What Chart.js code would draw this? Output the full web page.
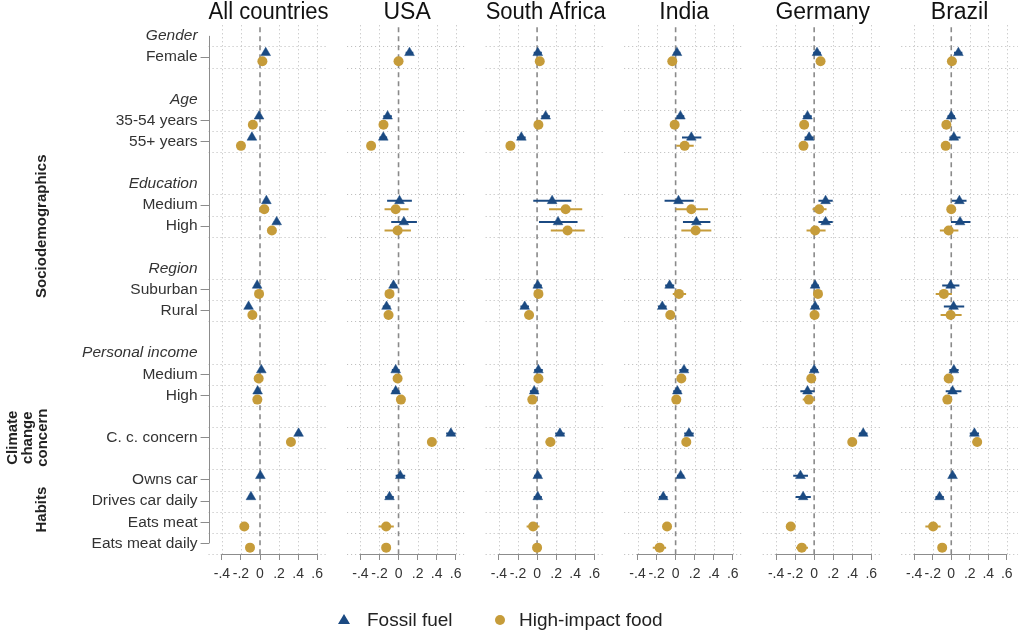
<!DOCTYPE html>
<html>
<head>
<meta charset="utf-8">
<script src="https://cdn.jsdelivr.net/npm/chart.js@4/dist/chart.umd.min.js"></script>
<style>
  html, body { margin: 0; padding: 0; background: #fff; }
  #wrap { position: relative; width: 1024px; height: 637px; overflow: hidden;
          font-family: "Liberation Sans", Arial, sans-serif; }
  #wrap canvas { position: absolute; left: 0; top: 0; }
  .lg-text { position: absolute; top: 608px; font-size: 19px; line-height: 24px; color: #222; white-space: nowrap; }
  .lg-tri { position: absolute; left: 338px; top: 614px; width: 12px; height: 10px;
            background: #1b4a82; clip-path: polygon(50% 0, 100% 100%, 0 100%); }
  .lg-dot { position: absolute; left: 495px; top: 615px; width: 10px; height: 10px;
            border-radius: 50%; background: #c69c3a; }
</style>
</head>
<body>
<div id="wrap">
  <div class="lg-tri"></div><div class="lg-text" style="left:367px">Fossil fuel</div>
  <div class="lg-dot"></div><div class="lg-text" style="left:519px">High-impact food</div>
</div>
<script>
// Coefficient plot, six panels side by side (one Chart.js scatter per panel).
// Rows are placed on a linear y scale by index; headers are italic tick labels.

const FONT = '"Liberation Sans", Arial, sans-serif';
const NAVY = "#1b4a82";
const GOLD = "#c69c3a";
const GRID = "#b9b9b9";
const AXIS = "#8c8c8c";

const countries = ["All countries", "USA", "South Africa", "India", "Germany", "Brazil"];

const rowLabels = [
  "Gender", "Female", "",
  "Age", "35-54 years", "55+ years", "",
  "Education", "Medium", "High", "",
  "Region", "Suburban", "Rural", "",
  "Personal income", "Medium", "High", "",
  "C. c. concern", "",
  "Owns car", "Drives car daily", "Eats meat", "Eats meat daily",
];
const headerRows = [0, 3, 7, 11, 15];
const dataRows = [1, 4, 5, 8, 9, 12, 13, 16, 17, 19, 21, 22, 23, 24];
const xTicks = [-0.4, -0.2, 0, 0.2, 0.4, 0.6];

// order of values: Female, 35-54, 55+, Edu medium, Edu high, Suburban, Rural,
// Income medium, Income high, C.c. concern, Owns car, Drives car daily, Eats meat, Eats meat daily
const allFossil = [0.06, -0.01, -0.085, 0.067, 0.175, -0.03, -0.12, 0.014, -0.025, 0.405, 0.004, -0.095, null, null];
const allFossilCI = [[0.035, 0.085], [-0.035, 0.015], [-0.11, -0.06], [0.04, 0.095], [0.145, 0.205], [-0.055, -0.005], [-0.145, -0.095], [-0.01, 0.04], [-0.05, 0.0], [0.375, 0.435], [-0.02, 0.03], [-0.12, -0.07], null, null];
const allFood = [0.025, -0.075, -0.2, 0.045, 0.125, -0.01, -0.08, -0.014, -0.028, 0.325, null, null, -0.165, -0.105];
const allFoodCI = [[0.0, 0.05], [-0.1, -0.05], [-0.225, -0.175], [0.015, 0.075], [0.095, 0.155], [-0.035, 0.015], [-0.105, -0.055], [-0.04, 0.012], [-0.053, -0.003], [0.295, 0.355], null, null, [-0.19, -0.14], [-0.13, -0.08]];

const usaFossil = [0.115, -0.115, -0.16, 0.01, 0.056, -0.053, -0.126, -0.03, -0.03, 0.55, 0.018, -0.095, null, null];
const usaFossilCI = [[0.075, 0.155], [-0.16, -0.07], [-0.2, -0.12], [-0.12, 0.14], [-0.077, 0.193], [-0.09, -0.015], [-0.165, -0.085], [-0.07, 0.01], [-0.07, 0.01], [0.5, 0.6], [-0.03, 0.07], [-0.14, -0.05], null, null];
const usaFood = [0.0, -0.158, -0.288, -0.03, -0.01, -0.095, -0.105, -0.01, 0.025, 0.35, null, null, -0.13, -0.13];
const usaFoodCI = [[-0.04, 0.04], [-0.2, -0.115], [-0.33, -0.245], [-0.147, 0.105], [-0.147, 0.13], [-0.135, -0.055], [-0.145, -0.065], [-0.05, 0.03], [-0.015, 0.065], [0.31, 0.39], null, null, [-0.21, -0.05], [-0.17, -0.09]];

const zafFossil = [0.007, 0.09, -0.165, 0.158, 0.22, 0.007, -0.13, 0.014, -0.03, 0.24, 0.007, 0.007, null, null];
const zafFossilCI = [[-0.035, 0.05], [0.045, 0.135], [-0.21, -0.12], [-0.04, 0.36], [0.02, 0.425], [-0.035, 0.05], [-0.175, -0.085], [-0.03, 0.06], [-0.075, 0.015], [0.19, 0.29], [-0.03, 0.045], [-0.035, 0.05], null, null];
const zafFood = [0.028, 0.014, -0.28, 0.3, 0.32, 0.014, -0.084, 0.014, -0.05, 0.14, null, null, -0.042, 0.0];
const zafFoodCI = [[-0.01, 0.065], [-0.025, 0.055], [-0.32, -0.24], [0.126, 0.474], [0.144, 0.5], [-0.025, 0.055], [-0.13, -0.04], [-0.025, 0.055], [-0.09, -0.01], [0.09, 0.19], null, null, [-0.11, 0.025], [-0.04, 0.04]];

const indFossil = [0.014, 0.05, 0.165, 0.03, 0.218, -0.063, -0.14, 0.088, 0.018, 0.14, 0.053, -0.13, null, null];
const indFossilCI = [[-0.02, 0.05], [0.01, 0.09], [0.067, 0.27], [-0.116, 0.19], [0.077, 0.365], [-0.11, -0.015], [-0.185, -0.095], [0.04, 0.135], [-0.025, 0.06], [0.09, 0.19], [0.015, 0.09], [-0.175, -0.085], null, null];
const indFood = [-0.035, -0.01, 0.095, 0.165, 0.21, 0.035, -0.056, 0.06, 0.007, 0.112, null, null, -0.09, -0.168];
const indFoodCI = [[-0.07, 0.0], [-0.045, 0.025], [0.007, 0.19], [0.0, 0.34], [0.06, 0.375], [-0.03, 0.11], [-0.095, -0.015], [0.02, 0.1], [-0.03, 0.045], [0.07, 0.155], null, null, [-0.125, -0.055], [-0.24, -0.1]];

const deuFossil = [0.03, -0.07, -0.053, 0.12, 0.12, 0.01, 0.01, 0.0, -0.07, 0.515, -0.144, -0.116, null, null];
const deuFossilCI = [[-0.01, 0.07], [-0.115, -0.025], [-0.1, -0.005], [0.045, 0.195], [0.045, 0.195], [-0.03, 0.05], [-0.03, 0.05], [-0.04, 0.04], [-0.145, 0.005], [0.47, 0.56], [-0.22, -0.065], [-0.195, -0.035], null, null];
const deuFood = [0.067, -0.105, -0.112, 0.053, 0.01, 0.04, 0.004, -0.03, -0.056, 0.4, null, null, -0.246, -0.13];
const deuFoodCI = [[0.02, 0.11], [-0.15, -0.06], [-0.16, -0.065], [-0.017, 0.13], [-0.08, 0.12], [0.0, 0.08], [-0.04, 0.045], [-0.07, 0.01], [-0.12, 0.01], [0.355, 0.445], null, null, [-0.29, -0.2], [-0.19, -0.065]];

const braFossil = [0.077, 0.0, 0.028, 0.088, 0.095, -0.007, 0.025, 0.028, 0.014, 0.25, 0.014, -0.126, null, null];
const braFossilCI = [[0.03, 0.12], [-0.04, 0.04], [-0.02, 0.1], [0.007, 0.165], [-0.003, 0.207], [-0.098, 0.088], [-0.08, 0.14], [-0.02, 0.08], [-0.06, 0.11], [0.2, 0.3], [-0.02, 0.05], [-0.17, -0.08], null, null];
const braFood = [0.007, -0.053, -0.06, 0.0, -0.028, -0.08, -0.007, -0.028, -0.042, 0.28, null, null, -0.196, -0.098];
const braFoodCI = [[-0.03, 0.04], [-0.09, -0.01], [-0.1, -0.02], [-0.04, 0.04], [-0.123, 0.077], [-0.168, 0.007], [-0.115, 0.112], [-0.07, 0.01], [-0.08, 0.0], [0.23, 0.33], null, null, [-0.28, -0.115], [-0.14, -0.055]];

const panels = [
  [allFossil, allFossilCI, allFood, allFoodCI],
  [usaFossil, usaFossilCI, usaFood, usaFoodCI],
  [zafFossil, zafFossilCI, zafFood, zafFoodCI],
  [indFossil, indFossilCI, indFood, indFoodCI],
  [deuFossil, deuFossilCI, deuFood, deuFoodCI],
  [braFossil, braFossilCI, braFood, braFoodCI],
];

// gridlines sit on the edges of every data row
const boundaries = [...new Set(dataRows.flatMap((r) => [r - 0.5, r + 0.5]))];

function fmtTick(v) {
  if (Math.abs(v) < 1e-9) return "0";
  return (v < 0 ? "-" : "") + "." + Math.round(Math.abs(v) * 10);
}

function line(ctx, x1, y1, x2, y2) {
  ctx.beginPath();
  ctx.moveTo(x1, y1);
  ctx.lineTo(x2, y2);
  ctx.stroke();
}

const panelDecor = {
  id: "panelDecor",
  beforeDatasetsDraw(chart, _args, opts) {
    const { ctx, chartArea: a, scales: { x, y } } = chart;
    ctx.save();
    ctx.lineWidth = 1;
    ctx.strokeStyle = GRID;
    ctx.setLineDash([1, 3]);
    boundaries.forEach((b) => {
      const py = Math.round(y.getPixelForValue(b)) + 0.5;
      line(ctx, a.left, py, a.right, py);
    });
    xTicks.filter((v) => v !== 0).forEach((v) => {
      const px = Math.round(x.getPixelForValue(v)) + 0.5;
      line(ctx, px, a.top, px, a.bottom);
    });
    // reference line at 0
    const x0 = x.getPixelForValue(0);
    ctx.strokeStyle = "#8a8a8a";
    ctx.lineWidth = 1.6;
    ctx.setLineDash([5, 4]);
    line(ctx, x0, a.top + 2, x0, a.bottom);
    // x axis only spans the labelled range
    ctx.setLineDash([]);
    ctx.lineWidth = 1;
    ctx.strokeStyle = AXIS;
    line(ctx, x.getPixelForValue(-0.4) - 0.5, a.bottom + 0.5, x.getPixelForValue(0.6) + 0.5, a.bottom + 0.5);
    if (opts.yAxis) {
      const lx = Math.round(a.left) + 0.5;
      line(ctx, lx, y.getPixelForValue(0), lx, y.getPixelForValue(24));
    }
    ctx.restore();
  },
  afterDraw(chart, _args, opts) {
    if (!opts.yAxis) return;
    const { ctx, scales: { y } } = chart;
    const groups = [
      { lines: ["Sociodemographics"], x: [42], rows: [0, 18] },
      { lines: ["Climate", "change", "concern"], x: [13, 28, 43], rows: [19, 19] },
      { lines: ["Habits"], x: [42], rows: [21.3, 23.5] },
    ];
    ctx.save();
    ctx.font = `bold 15px ${FONT}`;
    ctx.fillStyle = "#222";
    ctx.textAlign = "center";
    ctx.textBaseline = "middle";
    groups.forEach((g) => {
      const cy = (y.getPixelForValue(g.rows[0]) + y.getPixelForValue(g.rows[1])) / 2;
      g.lines.forEach((t, k) => {
        ctx.save();
        ctx.translate(g.x[k], cy);
        ctx.rotate(-Math.PI / 2);
        ctx.fillText(t, 0, 0);
        ctx.restore();
      });
    });
    ctx.restore();
  },
};

function ciSets(values, cis, dy, color) {
  const out = [];
  dataRows.forEach((r, k) => {
    if (values[k] == null || !cis[k]) return;
    out.push({
      data: [{ x: cis[k][0], y: r + dy }, { x: cis[k][1], y: r + dy }],
      showLine: true,
      pointRadius: 0,
      borderColor: color,
      borderWidth: 2,
    });
  });
  return out;
}

function points(values, dy) {
  return dataRows
    .map((r, k) => (values[k] == null ? null : { x: values[k], y: r + dy }))
    .filter(Boolean);
}

const wrap = document.getElementById("wrap");
const X_MIN = -0.54, X_MAX = 0.72, AREA_W = 120;

panels.forEach(([fossil, fossilCI, food, foodCI], i) => {
  const canvas = document.createElement("canvas");
  canvas.width = 1024;
  canvas.height = 637;
  wrap.insertBefore(canvas, wrap.firstChild);
  const zero = 260 + 138.54 * i;
  const left = zero + (X_MIN * AREA_W) / (X_MAX - X_MIN);
  const right = left + AREA_W;
  const first = i === 0;

  new Chart(canvas, {
    type: "scatter",
    data: {
      datasets: [
        { label: "Fossil fuel", data: points(fossil, -0.2), pointStyle: "triangle", pointRadius: 5.6,
          backgroundColor: NAVY, borderColor: NAVY, borderWidth: 0.5 },
        { label: "High-impact food", data: points(food, 0.2), pointStyle: "circle", pointRadius: 5,
          backgroundColor: GOLD, borderColor: GOLD, borderWidth: 0 },
        ...ciSets(fossil, fossilCI, -0.2, NAVY),
        ...ciSets(food, foodCI, 0.2, GOLD),
      ],
    },
    options: {
      responsive: false,
      animation: false,
      events: [],
      layout: { padding: { left: 0, right: 1024 - right, top: 0, bottom: 0 } },
      plugins: {
        legend: { display: false },
        tooltip: { enabled: false },
        title: {
          display: true, text: countries[i], color: "#111", padding: 0, fullSize: false,
          font: { family: FONT, size: 23, weight: "normal", lineHeight: 1.1 },
        },
        panelDecor: { yAxis: first },
      },
      scales: {
        x: {
          type: "linear", min: X_MIN, max: X_MAX,
          afterBuildTicks: (s) => { s.ticks = xTicks.map((v) => ({ value: v })); },
          afterFit: (s) => { s.height = 83; },
          ticks: { autoSkip: false, maxRotation: 0, padding: 6, color: "#333",
                   font: { family: FONT, size: 14 }, callback: fmtTick },
          grid: { drawOnChartArea: false, drawTicks: true, tickLength: 6, color: AXIS, tickColor: AXIS },
          border: { display: false },
        },
        y: {
          type: "linear", reverse: true, min: -0.5, max: 24.5,
          afterBuildTicks: (s) => {
            s.ticks = rowLabels.map((t, v) => (t ? { value: v } : null)).filter(Boolean);
          },
          afterFit: (s) => { s.width = left; },
          ticks: {
            display: first, autoSkip: false, padding: 3, color: "#333",
            font: (c) => ({ family: FONT, size: 15.5,
              style: c.tick && headerRows.includes(c.tick.value) ? "italic" : "normal" }),
            callback: (v) => rowLabels[v],
          },
          grid: {
            display: first, drawOnChartArea: false, drawTicks: true, tickLength: 8,
            tickColor: (c) => (c.tick && headerRows.includes(c.tick.value) ? "rgba(0,0,0,0)" : AXIS),
          },
          border: { display: false },
        },
      },
    },
    plugins: [panelDecor],
  });
});
</script>
</body>
</html>
